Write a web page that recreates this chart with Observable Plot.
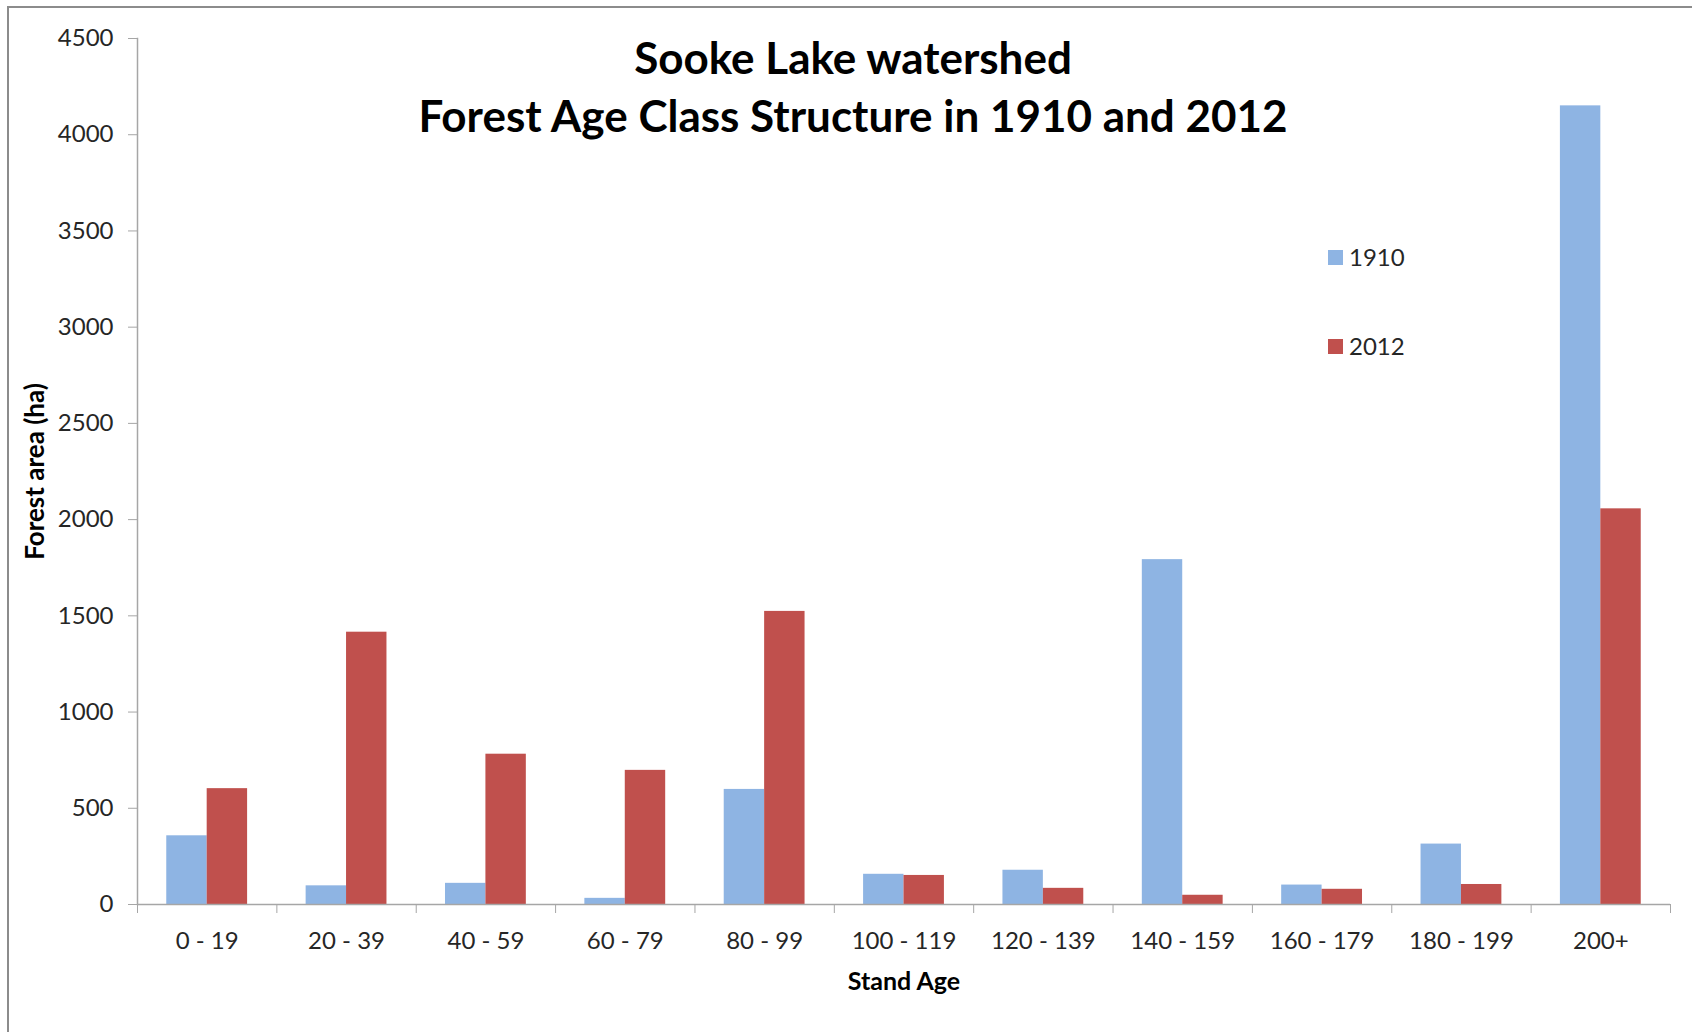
<!DOCTYPE html>
<html>
<head>
<meta charset="utf-8">
<script src="https://cdn.jsdelivr.net/npm/d3@7"></script>
<script src="https://cdn.jsdelivr.net/npm/@observablehq/plot@0.6"></script>
<style>
  html, body { margin: 0; padding: 0; background: #fff; }
  #chart { position: relative; width: 1692px; height: 1032px; overflow: hidden; font-family: Lato, "Open Sans", sans-serif; }
  #border { position: absolute; left: 7px; top: 6px; width: 1800px; height: 1200px; border: 2px solid #8c8c8c; box-sizing: border-box; pointer-events: none; }
  .legend { position: absolute; left: 1328px; font-size: 24px; color: #262626; display: flex; align-items: center; gap: 6px; line-height: 1; }
  .legend span.sw { display: inline-block; width: 15px; height: 15px; }
</style>
</head>
<body>
<div id="chart"><div id="border"></div></div>
<script>
// Stand age classes and forest area (ha) for each survey year
const ageClasses = ["0 - 19", "20 - 39", "40 - 59", "60 - 79", "80 - 99", "100 - 119", "120 - 139", "140 - 159", "160 - 179", "180 - 199", "200+"];
const area1910 = [357, 97, 110, 32, 598, 157, 178, 1792, 101, 314, 4150];
const area2012 = [602, 1415, 781, 697, 1523, 151, 84, 48, 79, 104, 2056];
const seriesNames = ["1910", "2012"];
const seriesColors = ["#8EB4E3", "#C0504D"];
const yTicks = [0, 500, 1000, 1500, 2000, 2500, 3000, 3500, 4000, 4500];

const rows = ageClasses.flatMap((c, i) => [
  {age: c, year: seriesNames[0], value: area1910[i]},
  {age: c, year: seriesNames[1], value: area2012[i]}
]);

const W = 1692, H = 1032;
const mL = 137, mR = 22, mT = 38, mB = 128;
const step = (W - mL - mR) / ageClasses.length;
const padIn = 0.42;
const half = step * (1 - padIn) / 2;
const axisGray = "#a6a6a6";
const textColor = "#262626";

const chart = Plot.plot({
  width: W,
  height: H,
  marginLeft: mL,
  marginRight: mR,
  marginTop: mT,
  marginBottom: mB,
  style: {fontFamily: "Lato, 'Open Sans', sans-serif", color: textColor, background: "transparent"},
  x: {domain: ageClasses, paddingInner: padIn, paddingOuter: padIn / 2, round: false, label: null},
  y: {domain: [0, 4500], label: null},
  color: {domain: seriesNames, range: seriesColors},
  marks: [
    // grouped bars: 1910 on the left half of each band, 2012 on the right
    Plot.barY(rows.filter(d => d.year === seriesNames[0]), {x: "age", y: "value", fill: "year", insetRight: half}),
    Plot.barY(rows.filter(d => d.year === seriesNames[1]), {x: "age", y: "value", fill: "year", insetLeft: half}),
    // axis lines
    Plot.ruleY([0], {stroke: axisGray, strokeWidth: 1.5}),
    Plot.frame({anchor: "left", stroke: axisGray, strokeWidth: 1.5}),
    // y axis ticks and labels
    Plot.axisY({ticks: yTicks, tickSize: 9, tickPadding: 15, fontSize: 24, stroke: axisGray, fill: textColor, label: null, tickFormat: d => String(d)}),
    // category labels
    Plot.axisX({tickSize: 0, tickPadding: 27, fontSize: 24, fill: textColor, label: null}),
    // tick marks on category boundaries
    Plot.axisX({ticks: ageClasses, tickSize: 9, dx: step / 2, stroke: axisGray, tickFormat: () => "", label: null}),
    Plot.axisX({ticks: [ageClasses[0]], tickSize: 9, dx: -step / 2, stroke: axisGray, tickFormat: () => "", label: null}),
    // axis titles
    Plot.text(["Stand Age"], {frameAnchor: "bottom", dy: 85, fontSize: 25, fontWeight: "bold", fill: "#000"}),
    Plot.text(["Forest area (ha)"], {frameAnchor: "left", textAnchor: "middle", dx: -102, rotate: -90, fontSize: 26, fontWeight: "bold", fill: "#000"}),
    // chart title
    Plot.text(["Sooke Lake watershed"], {frameAnchor: "top", dx: -51, dy: 4, fontSize: 44, fontWeight: "bold", fill: "#000"}),
    Plot.text(["Forest Age Class Structure in 1910 and 2012"], {frameAnchor: "top", dx: -51, dy: 62, fontSize: 44, fontWeight: "bold", fill: "#000"})
  ]
});

const host = document.getElementById("chart");
host.insertBefore(chart, host.firstChild);

// legend
const legendTops = [257, 346];
seriesNames.forEach((name, i) => {
  const item = document.createElement("div");
  item.className = "legend";
  item.style.top = (legendTops[i] - 12) + "px";
  item.innerHTML = `<span class="sw" style="background:${seriesColors[i]}"></span><span>${name}</span>`;
  host.appendChild(item);
});
</script>
</body>
</html>
